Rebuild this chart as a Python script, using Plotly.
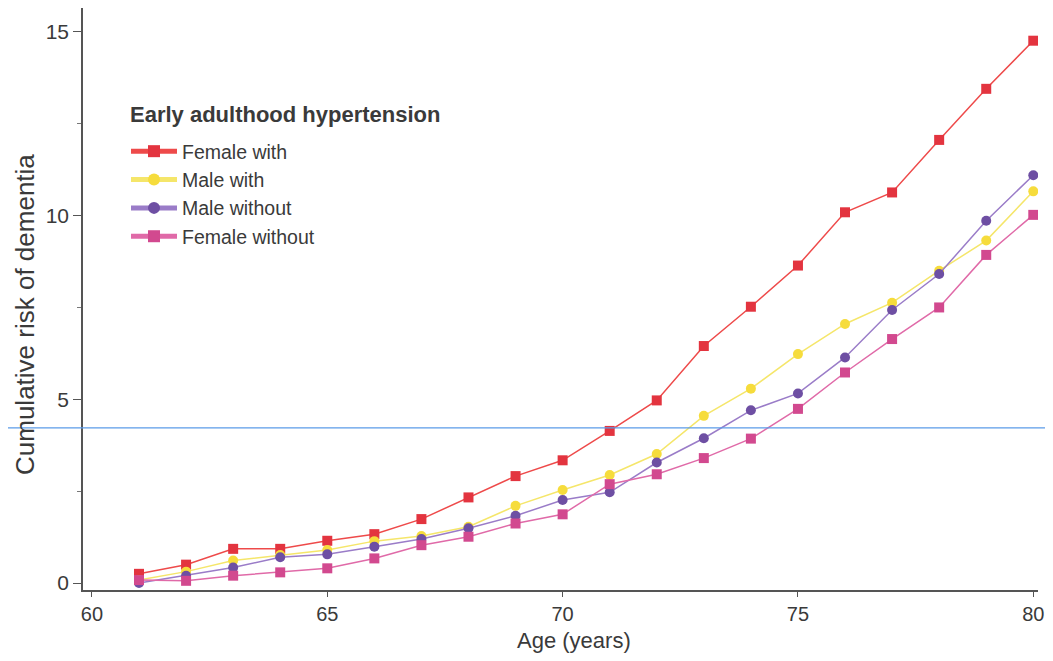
import plotly.graph_objects as go

ages = list(range(61, 81))
female_with = [0.25, 0.50, 0.93, 0.93, 1.15, 1.33, 1.74, 2.33, 2.91, 3.34, 4.14, 4.97, 6.45, 7.52, 8.64, 10.09, 10.63, 12.06, 13.45, 14.76]
male_with = [0.08, 0.31, 0.61, 0.76, 0.90, 1.14, 1.28, 1.53, 2.10, 2.53, 2.94, 3.51, 4.55, 5.29, 6.23, 7.05, 7.63, 8.50, 9.32, 10.66]
male_without = [0.0, 0.20, 0.42, 0.70, 0.78, 0.99, 1.20, 1.49, 1.83, 2.26, 2.47, 3.28, 3.94, 4.70, 5.16, 6.14, 7.43, 8.41, 9.86, 11.10]
female_without = [0.08, 0.06, 0.20, 0.29, 0.40, 0.67, 1.03, 1.26, 1.62, 1.87, 2.69, 2.96, 3.40, 3.93, 4.74, 5.73, 6.64, 7.50, 8.93, 10.02]
ref_line = 4.22
x_ticks = [60, 65, 70, 75, 80]
y_ticks = [0, 5, 10, 15]
y_minor = [2.5, 7.5, 12.5]

series = [
    ("Female with", female_with, "square", "#e3343f", "#ee4a4a"),
    ("Male with", male_with, "circle", "#f6dc3c", "#f5e66a"),
    ("Male without", male_without, "circle", "#6e4fa3", "#9a7cc8"),
    ("Female without", female_without, "square", "#d2498f", "#e06aa8"),
]

fig = go.Figure()
for name, vals, sym, mcol, lcol in series:
    fig.add_trace(go.Scatter(
        x=ages, y=vals, mode="lines+markers", name=name,
        line=dict(color=lcol, width=1.5),
        marker=dict(symbol=sym, size=10, color=mcol),
    ))

# page offset of 8px (body margin): figure spans page x 8..1045, y 8..653
# plot area in page coords: x 83..1038, y 8..590
PW, PH = 955, 582
fig.add_shape(type="line", xref="paper", yref="y",
              x0=-75/PW, x1=1+7/PW, y0=ref_line, y1=ref_line,
              line=dict(color="#5b9be8", width=1.2))

font = "Liberation Sans, Arial, sans-serif"
txt = "#3a3a3a"
fig.add_annotation(text="Cumulative risk of dementia", xref="paper", yref="paper",
                   x=(25 - 83) / PW, y=1 - (315 - 8) / PH, xanchor="center", yanchor="middle",
                   textangle=-90, showarrow=False, font=dict(size=26, color=txt))
fig.add_annotation(text="Age (years)", xref="paper", yref="paper",
                   x=(574 - 83) / PW, y=-(640 - 590) / PH, xanchor="center", yanchor="middle",
                   showarrow=False, font=dict(size=22, color=txt))
fig.add_annotation(text="<b>Early adulthood hypertension</b>", xref="paper", yref="paper",
                   x=(128 - 83) / PW, y=1 - (114 - 8) / PH, xanchor="left", yanchor="middle",
                   showarrow=False, font=dict(size=22, color=txt))

fig.update_layout(
    width=1037, height=645,
    margin=dict(l=75, r=7, t=0, b=63),
    paper_bgcolor="white", plot_bgcolor="white",
    font=dict(family=font, color=txt),
    showlegend=True,
    legend=dict(
        x=(126 - 83) / PW, y=1 - (132 - 8) / PH, xanchor="left", yanchor="top",
        font=dict(size=19.5, color=txt), itemwidth=46,
        bgcolor="rgba(0,0,0,0)", tracegroupgap=0, itemsizing="constant",
    ),
    xaxis=dict(
        range=[59.81, 80.1], tickvals=x_ticks, automargin=False,
        showgrid=False, zeroline=False, showline=True, linecolor="#555", linewidth=1.5,
        ticks="outside", ticklen=5, tickcolor="#555", tickfont=dict(size=20, color=txt),
    ),
    yaxis=dict(
        range=[-0.19, 15.65], tickvals=y_ticks, automargin=False,
        showgrid=False, zeroline=False, showline=True, linecolor="#555", linewidth=1.5,
        ticks="outside", ticklen=8, tickcolor="#555", tickfont=dict(size=21, color=txt),
        minor=dict(ticks="outside", ticklen=4, tickcolor="#777", tickvals=y_minor),
    ),
)

fig.write_html("out.html")
